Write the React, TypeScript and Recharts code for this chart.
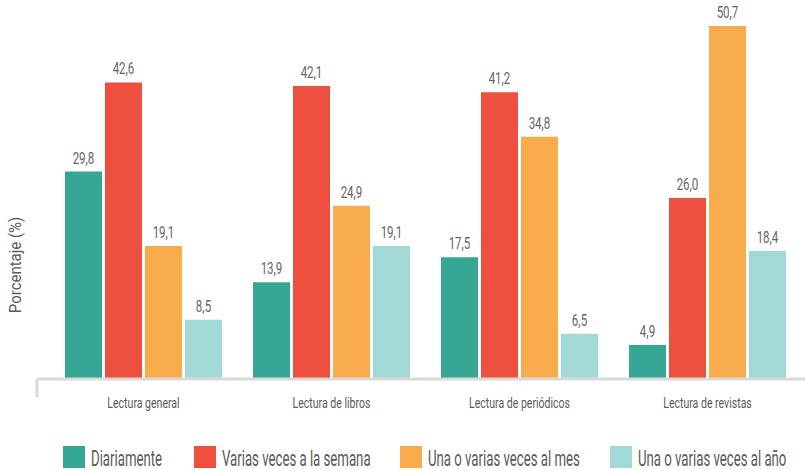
import React from "react";
import { BarChart, Bar, XAxis, YAxis, LabelList, Legend, ReferenceLine } from "recharts";

const categories = ["Lectura general", "Lectura de libros", "Lectura de periódicos", "Lectura de revistas"];
const diariamente = [29.8, 13.9, 17.5, 4.9];
const variasSemana = [42.6, 42.1, 41.2, 26.0];
const variasMes = [19.1, 24.9, 34.8, 50.7];
const variasAno = [8.5, 19.1, 6.5, 18.4];

const seriesNames = ["Diariamente", "Varias veces a la semana", "Una o varias veces al mes", "Una o varias veces al año"];
const seriesKeys = ["d", "s", "m", "a"];
const colors = ["#36a795", "#ef4f3e", "#f9ac4b", "#a1d9d6"];
const legendX = [63, 194, 400, 610];

const data = categories.map((c, i) => ({
  name: c,
  d: diariamente[i],
  s: variasSemana[i],
  m: variasMes[i],
  a: variasAno[i],
}));

const FONT = "Roboto, 'Noto Sans', sans-serif";

const fmt = (v: any) => Number(v).toFixed(1).replace(".", ",");

// condensed text via horizontal scaling
const CText = ({ x, y, s, size, fill, anchor, children, rotate }: any) => (
  <g transform={`translate(${x},${y})${rotate ? ` rotate(${rotate})` : ""} scale(${s},1)`}>
    <text x={0} y={0} fontSize={size} fill={fill} textAnchor={anchor} fontFamily={FONT}>
      {children}
    </text>
  </g>
);

const LegendContent = () => (
  <svg width={805} height={24} style={{ display: "block" }}>
    {seriesNames.map((n, i) => (
      <g key={n}>
        <rect x={legendX[i]} y={0} width={22} height={22} fill={colors[i]} />
        <CText x={legendX[i] + 28} y={20} s={0.6} size={22} fill="#5a5a5a" anchor="start">
          {n}
        </CText>
      </g>
    ))}
  </svg>
);

const YLabel = (props: any) => {
  const vb = props.viewBox || { x: 0, y: 0, width: 0, height: 0 };
  return (
    <CText x={vb.x + 21} y={vb.y + 248} rotate={-90} s={0.88} size={17} fill="#5a5a5a" anchor="middle">
      Porcentaje (%)
    </CText>
  );
};

const CatTick = (props: any) => {
  const { x, y, payload } = props;
  return (
    <CText x={x} y={y + 29} s={0.68} size={15.5} fill="#5a5a5a" anchor="middle">
      {payload.value}
    </CText>
  );
};

const ValueLabel = (props: any) => {
  const { x, y, width, value } = props;
  return (
    <CText x={Number(x) + Number(width) / 2} y={Number(y) - 8} s={0.7} size={16.5} fill="#666" anchor="middle">
      {fmt(value)}
    </CText>
  );
};

export default function App() {
  return (
    <div style={{ position: "absolute", left: 0, top: 0 }}>
      <BarChart
        width={805}
        height={470}
        data={data}
        margin={{ top: 17, right: 0, bottom: 51, left: 0 }}
        barCategoryGap={15.5}
        barGap={3}
      >
        <XAxis
          dataKey="name"
          height={40}
          padding={{ left: 12.5, right: 3.5 }}
          axisLine={{ stroke: "#d9d9d9", strokeWidth: 3 }}
          tickLine={false}
          tickSize={0}
          tickMargin={0}
          tick={<CatTick />}
          interval={0}
        />
        <XAxis xAxisId="n" type="number" domain={[0, 1]} hide />
        <YAxis
          width={37}
          domain={[0, 52]}
          axisLine={false}
          tickLine={false}
          tick={false}
          label={<YLabel />}
        />
        <ReferenceLine
          xAxisId="n"
          segment={[{ x: 0, y: 0 }, { x: 0, y: -2.6 }]}
          stroke="#d9d9d9"
          strokeWidth={3}
          ifOverflow="visible"
        />
        {seriesKeys.map((k, i) => (
          <Bar key={k} dataKey={k} name={seriesNames[i]} fill={colors[i]} isAnimationActive={false}>
            <LabelList dataKey={k} position="top" content={<ValueLabel />} />
          </Bar>
        ))}
        <Legend
          layout="horizontal"
          verticalAlign="middle"
          align="center"
          content={<LegendContent />}
          wrapperStyle={{ top: 446, left: 0, width: 805, height: 24 }}
        />
      </BarChart>
    </div>
  );
}
